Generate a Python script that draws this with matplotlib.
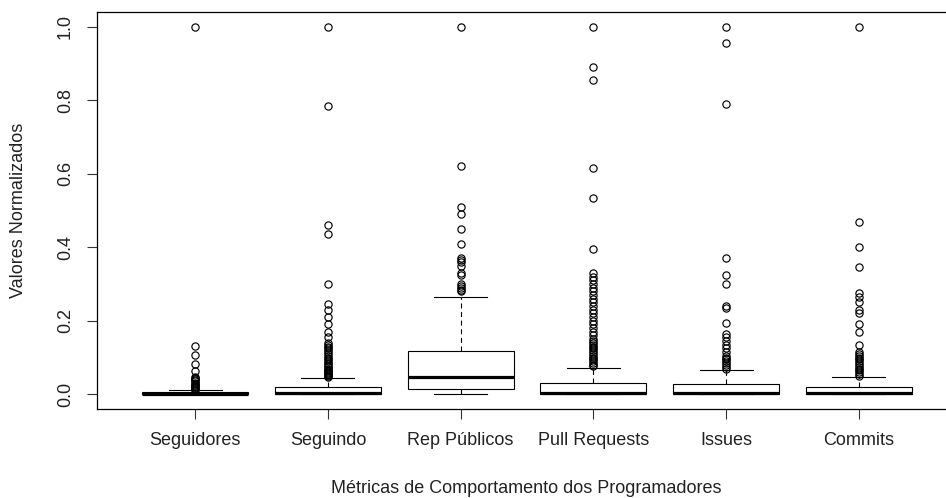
import matplotlib.pyplot as plt

plt.rcParams['font.family'] = ['Liberation Sans', 'DejaVu Sans']
plt.rcParams['lines.scale_dashes'] = False

# Métricas
categorias = ['Seguidores', 'Seguindo', 'Rep Públicos', 'Pull Requests', 'Issues', 'Commits']
q1 = [0.0, 0.0, 0.014, 0.0, 0.0, 0.0]
mediana = [0.002, 0.003, 0.047, 0.004, 0.004, 0.004]
q3 = [0.005, 0.021, 0.117, 0.030, 0.027, 0.020]
bigode_inf = [0.0, 0.0, 0.0, 0.0, 0.0, 0.0]
bigode_sup = [0.011, 0.043, 0.266, 0.072, 0.066, 0.046]

outliers_seguidores = [0.012, 0.014, 0.017, 0.020, 0.023, 0.026, 0.029, 0.032, 0.035,
                       0.038, 0.041, 0.044, 0.047, 0.063, 0.083, 0.107, 0.132, 1.0]
outliers_seguindo = [0.046, 0.049, 0.052, 0.055, 0.058, 0.061, 0.064, 0.067, 0.070, 0.074,
                     0.078, 0.082, 0.086, 0.090, 0.095, 0.100, 0.105, 0.110, 0.115, 0.120,
                     0.125, 0.130, 0.135, 0.140, 0.155, 0.170, 0.190, 0.210, 0.230, 0.245,
                     0.300, 0.435, 0.460, 0.785, 1.0]
outliers_rep = [0.280, 0.285, 0.290, 0.295, 0.300, 0.325, 0.330, 0.350, 0.360, 0.365,
                0.370, 0.410, 0.450, 0.490, 0.510, 0.620, 1.0]
outliers_pull = [0.076, 0.080, 0.085, 0.090, 0.095, 0.100, 0.105, 0.110, 0.115, 0.120,
                 0.125, 0.130, 0.135, 0.140, 0.145, 0.150, 0.160, 0.170, 0.180, 0.190,
                 0.200, 0.210, 0.220, 0.230, 0.240, 0.250, 0.260, 0.270, 0.280, 0.290,
                 0.300, 0.310, 0.320, 0.330, 0.395, 0.535, 0.615, 0.855, 0.890, 1.0]
outliers_issues = [0.070, 0.075, 0.080, 0.085, 0.090, 0.095, 0.100, 0.105, 0.115, 0.125,
                   0.135, 0.145, 0.155, 0.165, 0.195, 0.235, 0.240, 0.300, 0.325, 0.370,
                   0.790, 0.955, 1.0]
outliers_commits = [0.050, 0.055, 0.060, 0.065, 0.070, 0.075, 0.080, 0.085, 0.090, 0.095,
                    0.100, 0.105, 0.110, 0.115, 0.135, 0.170, 0.190, 0.220, 0.230, 0.250,
                    0.265, 0.275, 0.345, 0.400, 0.470, 1.0]
outliers = [outliers_seguidores, outliers_seguindo, outliers_rep,
            outliers_pull, outliers_issues, outliers_commits]

stats = []
for i in range(len(categorias)):
    stats.append({'label': categorias[i], 'q1': q1[i], 'med': mediana[i], 'q3': q3[i],
                  'whislo': bigode_inf[i], 'whishi': bigode_sup[i], 'fliers': outliers[i]})

fig = plt.figure(figsize=(9.46, 4.98), dpi=100)
ax = fig.add_axes([97 / 946, 89 / 498, 860 / 946, 397 / 498])

ax.bxp(stats, positions=range(1, 7), widths=0.8, capwidths=0.4, patch_artist=True,
       boxprops=dict(facecolor='white', edgecolor='black', linewidth=0.8),
       medianprops=dict(color='black', linewidth=2.3, solid_capstyle='butt'),
       whiskerprops=dict(color='black', linewidth=0.8, linestyle=(0, (3.6, 2.6))),
       capprops=dict(color='black', linewidth=0.8),
       flierprops=dict(marker='o', markerfacecolor='none', markeredgecolor='black',
                       markersize=5.2, markeredgewidth=0.85))

'''Eixos no estilo do R (a borda direita fica fora da imagem)'''
ax.set_xlim(0.26, 6.74)
ax.set_ylim(-0.04, 1.04)
ax.set_yticks([0.0, 0.2, 0.4, 0.6, 0.8, 1.0])
ax.set_yticklabels(['0.0', '0.2', '0.4', '0.6', '0.8', '1.0'], rotation=90, va='center')
ax.tick_params(axis='both', labelsize=13, length=7.5, width=0.8, pad=9,
               color='#333333', labelcolor='#222222')
for s in ax.spines.values():
    s.set_linewidth(0.9)
ax.spines['right'].set_visible(False)

ax.text(0.499, -0.199, 'Métricas de Comportamento dos Programadores', transform=ax.transAxes,
        ha='center', va='center', fontsize=13, color='#222222')
ax.text(-0.0907, 0.5, 'Valores Normalizados', transform=ax.transAxes, rotation=90,
        ha='center', va='center', fontsize=13, color='#222222')

fig.savefig('out.png', dpi=100)
